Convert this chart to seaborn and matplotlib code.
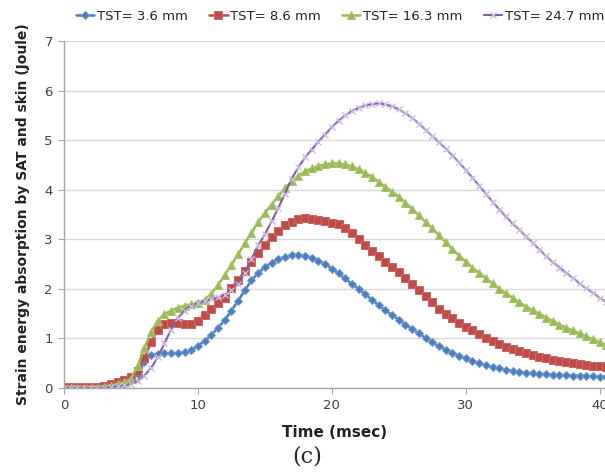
import numpy as np
import pandas as pd
import matplotlib
matplotlib.use("Agg")
import matplotlib.pyplot as plt
import seaborn as sns

# time axis, 0.5 msec steps
time = np.arange(0, 41, 0.5)

tst_3_6 = [0.02, 0.02, 0.02, 0.02, 0.02, 0.02, 0.03, 0.04, 0.06, 0.09,
           0.15, 0.28, 0.52, 0.66, 0.69, 0.70, 0.70, 0.70, 0.72, 0.77,
           0.85, 0.95, 1.07, 1.21, 1.37, 1.56, 1.76, 1.97, 2.17, 2.32,
           2.44, 2.53, 2.60, 2.65, 2.68, 2.69, 2.67, 2.63, 2.57, 2.50,
           2.41, 2.31, 2.21, 2.10, 2.00, 1.89, 1.78, 1.67, 1.57, 1.47,
           1.38, 1.28, 1.19, 1.10, 1.01, 0.92, 0.84, 0.77, 0.71, 0.65,
           0.60, 0.55, 0.50, 0.46, 0.43, 0.40, 0.37, 0.35, 0.33, 0.31,
           0.30, 0.29, 0.28, 0.27, 0.26, 0.26, 0.25, 0.25, 0.24, 0.24,
           0.23, 0.23]

tst_8_6 = [0.03, 0.03, 0.03, 0.03, 0.03, 0.03, 0.05, 0.08, 0.12, 0.16,
           0.23, 0.35, 0.60, 0.92, 1.17, 1.29, 1.31, 1.31, 1.29, 1.30,
           1.36, 1.48, 1.60, 1.71, 1.82, 2.01, 2.18, 2.36, 2.54, 2.72,
           2.89, 3.04, 3.17, 3.28, 3.35, 3.40, 3.42, 3.41, 3.39, 3.36,
           3.33, 3.30, 3.22, 3.12, 3.01, 2.89, 2.77, 2.66, 2.55, 2.44,
           2.33, 2.22, 2.10, 1.98, 1.86, 1.74, 1.60, 1.50, 1.41, 1.32,
           1.24, 1.16, 1.08, 1.00, 0.94, 0.88, 0.83, 0.78, 0.74, 0.70,
           0.67, 0.63, 0.60, 0.57, 0.54, 0.52, 0.50, 0.48, 0.46, 0.45,
           0.44, 0.43]

tst_16_3 = [0.00, 0.00, 0.00, 0.00, 0.00, 0.01, 0.03, 0.05, 0.08, 0.12,
            0.19, 0.45, 0.80, 1.12, 1.36, 1.49, 1.56, 1.62, 1.66, 1.69,
            1.72, 1.78, 1.90, 2.08, 2.28, 2.48, 2.70, 2.92, 3.13, 3.35,
            3.53, 3.70, 3.87, 4.03, 4.17, 4.28, 4.37, 4.43, 4.48, 4.51,
            4.53, 4.53, 4.51, 4.47, 4.41, 4.34, 4.26, 4.16, 4.06, 3.96,
            3.86, 3.74, 3.61, 3.48, 3.35, 3.22, 3.08, 2.94, 2.80, 2.67,
            2.55, 2.43, 2.32, 2.22, 2.11, 2.00, 1.91, 1.82, 1.73, 1.64,
            1.57, 1.50, 1.42, 1.35, 1.28, 1.22, 1.16, 1.10, 1.04, 0.98,
            0.92, 0.87]

tst_24_7 = [0.00, 0.00, 0.00, 0.00, 0.00, 0.00, 0.01, 0.02, 0.04, 0.06,
            0.09, 0.14, 0.25, 0.40, 0.62, 0.90, 1.18, 1.41, 1.56, 1.66,
            1.71, 1.75, 1.79, 1.83, 1.88, 1.97, 2.09, 2.32, 2.60, 2.88,
            3.10, 3.36, 3.63, 3.92, 4.22, 4.45, 4.65, 4.81, 4.97, 5.11,
            5.26, 5.39, 5.50, 5.59, 5.65, 5.70, 5.73, 5.74, 5.72, 5.68,
            5.62, 5.54, 5.45, 5.33, 5.21, 5.08, 4.96, 4.83, 4.69, 4.55,
            4.40, 4.24, 4.08, 3.92, 3.76, 3.60, 3.46, 3.32, 3.19, 3.06,
            2.93, 2.79, 2.66, 2.54, 2.43, 2.32, 2.22, 2.11, 2.01, 1.92,
            1.82, 1.73]

labels = ["TST= 3.6 mm", "TST= 8.6 mm", "TST= 16.3 mm", "TST= 24.7 mm"]

df = pd.DataFrame({
    "time": np.tile(time, 4),
    "energy": tst_3_6 + tst_8_6 + tst_16_3 + tst_24_7,
    "series": np.repeat(labels, len(time)),
})

sns.set_style("white")

fig = plt.figure(figsize=(6.05, 4.73), dpi=100)
ax = fig.add_axes([64 / 605, 85 / 473, 1 - 64 / 605, 347 / 473])

styles = {
    labels[0]: dict(color="#4a7ebb", marker="D", markersize=3.8, markeredgecolor="#6f9ad0", linewidth=1.8),
    labels[1]: dict(color="#be4b48", marker="s", markersize=5.2, markeredgecolor="#c96865", linewidth=1.8),
    labels[2]: dict(color="#98b954", marker="^", markersize=5.5, markeredgecolor="#a9c66e", linewidth=1.8),
    labels[3]: dict(color="#7d60a0", marker="x", markersize=5, markeredgecolor="#cbb9e2",
                    markeredgewidth=1.0, linewidth=1.5),
}

for lab in labels:
    sub = df[df["series"] == lab]
    sns.lineplot(data=sub, x="time", y="energy", ax=ax, label=lab, **styles[lab])

ax.set_xlim(0, 40.4)
ax.set_ylim(0, 7)
ax.set_xticks([0, 10, 20, 30, 40])
ax.set_yticks(range(0, 8))
ax.yaxis.grid(True, color="#d9d9d9", linewidth=1)
ax.xaxis.grid(False)
for s in ["top", "right"]:
    ax.spines[s].set_visible(False)
for s in ["left", "bottom"]:
    ax.spines[s].set_color("#a6a6a6")
    ax.spines[s].set_linewidth(1)
ax.tick_params(axis="both", length=4, color="#a6a6a6", labelsize=9.5, labelcolor="#404040", pad=4)
ax.tick_params(axis="x", direction="out", bottom=True)
ax.tick_params(axis="y", direction="out", left=True)

ax.set_xlabel("Time (msec)", fontsize=11, fontweight="bold", color="#222222", labelpad=9)
ax.set_ylabel("Strain energy absorption by SAT and skin (Joule)", fontsize=10, fontweight="bold",
              color="#222222", labelpad=10)

handles, labs = ax.get_legend_handles_labels()
ax.get_legend().remove()
fig.legend(handles, labs, loc="center", bbox_to_anchor=(0.562, 0.966), ncol=4, frameon=False,
           fontsize=9.5, handlelength=1.4, handletextpad=0.2, columnspacing=1.6)

fig.text(0.507, 0.035, "(c)", fontsize=16, family="DejaVu Serif", ha="center", va="center")

fig.savefig("out.png", dpi=100)
